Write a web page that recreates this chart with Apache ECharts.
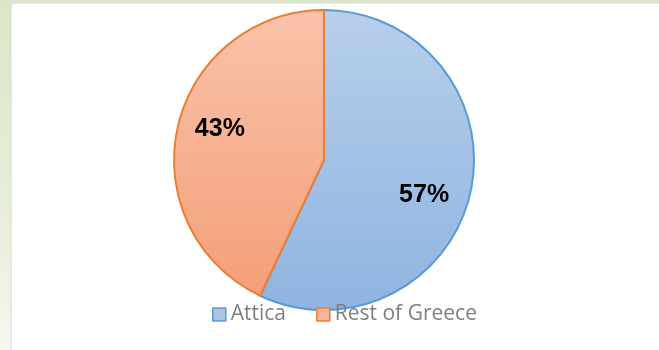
<!DOCTYPE html>
<html><head><meta charset="utf-8">
<script src="https://cdn.jsdelivr.net/npm/echarts@6/dist/echarts.min.js"></script>
<style>html,body{margin:0;padding:0;}#c{width:659px;height:350px;}</style>
</head><body><div id="c"></div>
<script>
const categories = ['Attica', 'Rest of Greece'];
const values = [57, 43];

const chart = echarts.init(document.getElementById('c'));
const grad = (a, b) => new echarts.graphic.LinearGradient(0, 0, 0, 1, [{offset: 0, color: a}, {offset: 1, color: b}]);
const fills = [grad('#b7cfeb', '#8fb4e0'), grad('#f9c3aa', '#f49f78')];
const borders = ['#5b9bd5', '#ed7d31'];
const labelShift = [[24, 18], [-28, -14]];

chart.setOption({
  animation: false,
  graphic: [
    {type: 'rect', z: -10, shape: {x: 0, y: 0, width: 659, height: 350},
     style: {fill: new echarts.graphic.LinearGradient(0, 0, 0, 1, [{offset: 0, color: '#dbe6c8'}, {offset: 0.7, color: '#eaf0dc'}, {offset: 1, color: '#f6f8f1'}])}},
    {type: 'rect', z: -9, shape: {x: 11, y: 3, width: 660, height: 360},
     style: {fill: '#ffffff', stroke: '#d6d6d6', lineWidth: 1}}
  ],
  legend: {
    top: 299, left: 207,
    itemWidth: 13, itemHeight: 13, itemGap: 30,
    icon: 'rect',
    textStyle: {color: '#7f7f7f', fontSize: 21, fontFamily: 'Open Sans, Liberation Sans, sans-serif'},
    data: categories.map((c, i) => ({name: c, itemStyle: {color: i === 0 ? '#a9c5e7' : '#f7b597', borderColor: borders[i], borderWidth: 1.5}}))
  },
  series: [{
    type: 'pie',
    center: [324, 160], radius: [0, 150],
    startAngle: 90, clockwise: true,
    label: {show: true, position: 'inside', formatter: '{d}%', color: '#000', fontWeight: 'bold', fontSize: 25, fontFamily: 'Liberation Sans, Arial, sans-serif'},
    labelLayout: p => ({dx: labelShift[p.dataIndex][0], dy: labelShift[p.dataIndex][1]}),
    emphasis: {disabled: true},
    data: categories.map((c, i) => ({name: c, value: values[i], itemStyle: {color: fills[i], borderColor: borders[i], borderWidth: 2}}))
  }]
});
</script></body></html>
